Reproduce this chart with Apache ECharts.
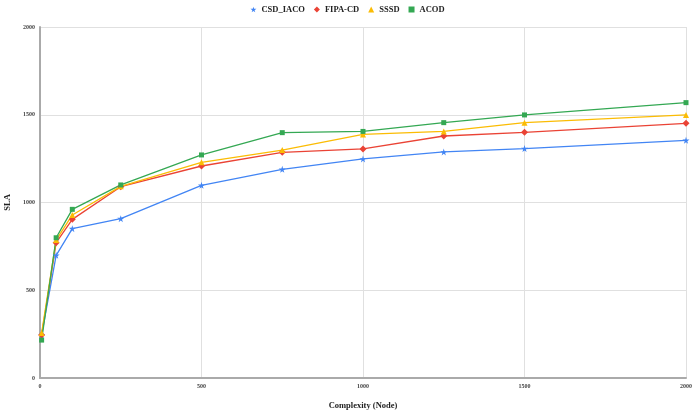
<!DOCTYPE html>
<html><head><meta charset="utf-8">
<script src="https://cdn.jsdelivr.net/npm/echarts@6/dist/echarts.min.js"></script>
<style>html,body{margin:0;padding:0;background:#fff}#c{width:695px;height:411px}</style>
</head><body><div id="c"></div>
<script>
const xValues = [5, 50, 100, 250, 500, 750, 1000, 1250, 1500, 2000];
const csdIaco = [245, 699, 851, 908, 1098, 1189, 1248, 1288, 1307, 1354];
const fipaCd  = [245, 771, 904, 1090, 1208, 1286, 1305, 1379, 1400, 1451];
const sssd    = [256, 786, 929, 1092, 1229, 1299, 1388, 1405, 1455, 1499];
const acod    = [216, 799, 961, 1100, 1271, 1398, 1405, 1455, 1499, 1569];
const seriesNames = ['CSD_IACO', 'FIPA-CD', 'SSSD', 'ACOD'];
const colors = ['#4285F4', '#EA4335', '#FBBC04', '#34A853'];
const symbols = ['path://M50,0 L61,35 L98,35 L68,57 L79,91 L50,70 L21,91 L32,57 L2,35 L39,35 Z', 'diamond', 'triangle', 'rect'];
const sizes = [7, 7, 6, 5];
const allData = [csdIaco, fipaCd, sssd, acod];

const chart = echarts.init(document.getElementById('c'));
const font = 'Liberation Serif';
chart.setOption({
  animation: false,
  color: colors,
  legend: {
    top: 0, left: 'center', itemWidth: 6, itemHeight: 6, itemGap: 9,
    textStyle: {fontFamily: font, fontWeight: 'bold', fontSize: 8.5, color: '#222'},
    data: seriesNames.map((n, i) => ({name: n, icon: symbols[i]}))
  },
  grid: {left: 40, right: 9, top: 27, bottom: 33, containLabel: false, outerBoundsMode: 'none'},
  xAxis: {
    type: 'value', min: 0, max: 2000, interval: 500,
    name: 'Complexity (Node)', nameLocation: 'middle', nameGap: 23,
    nameTextStyle: {fontFamily: font, fontWeight: 'bold', fontSize: 8.5, color: '#222'},
    axisLine: {show: true, lineStyle: {color: '#aaa', width: 2}},
    axisTick: {show: false},
    axisLabel: {fontFamily: font, fontWeight: 'bold', fontSize: 6, color: '#444', margin: 5, formatter: v => String(v)},
    splitLine: {show: true, lineStyle: {color: '#e0e0e0'}}
  },
  yAxis: {
    type: 'value', min: 0, max: 2000, interval: 500,
    name: 'SLA', nameLocation: 'middle', nameGap: 24,
    nameTextStyle: {fontFamily: font, fontWeight: 'bold', fontSize: 8.5, color: '#222'},
    axisLine: {show: true, lineStyle: {color: '#aaa', width: 2}},
    axisTick: {show: false},
    axisLabel: {fontFamily: font, fontWeight: 'bold', fontSize: 6, color: '#444', margin: 5, formatter: v => String(v)},
    splitLine: {show: true, lineStyle: {color: '#e0e0e0'}}
  },
  series: allData.map((d, i) => ({
    name: seriesNames[i], type: 'line',
    data: d.map((v, j) => [xValues[j], v]),
    symbol: symbols[i], symbolSize: sizes[i], showSymbol: true,
    lineStyle: {width: 1.3, color: colors[i]},
    itemStyle: {color: colors[i]}
  }))
});
</script></body></html>
